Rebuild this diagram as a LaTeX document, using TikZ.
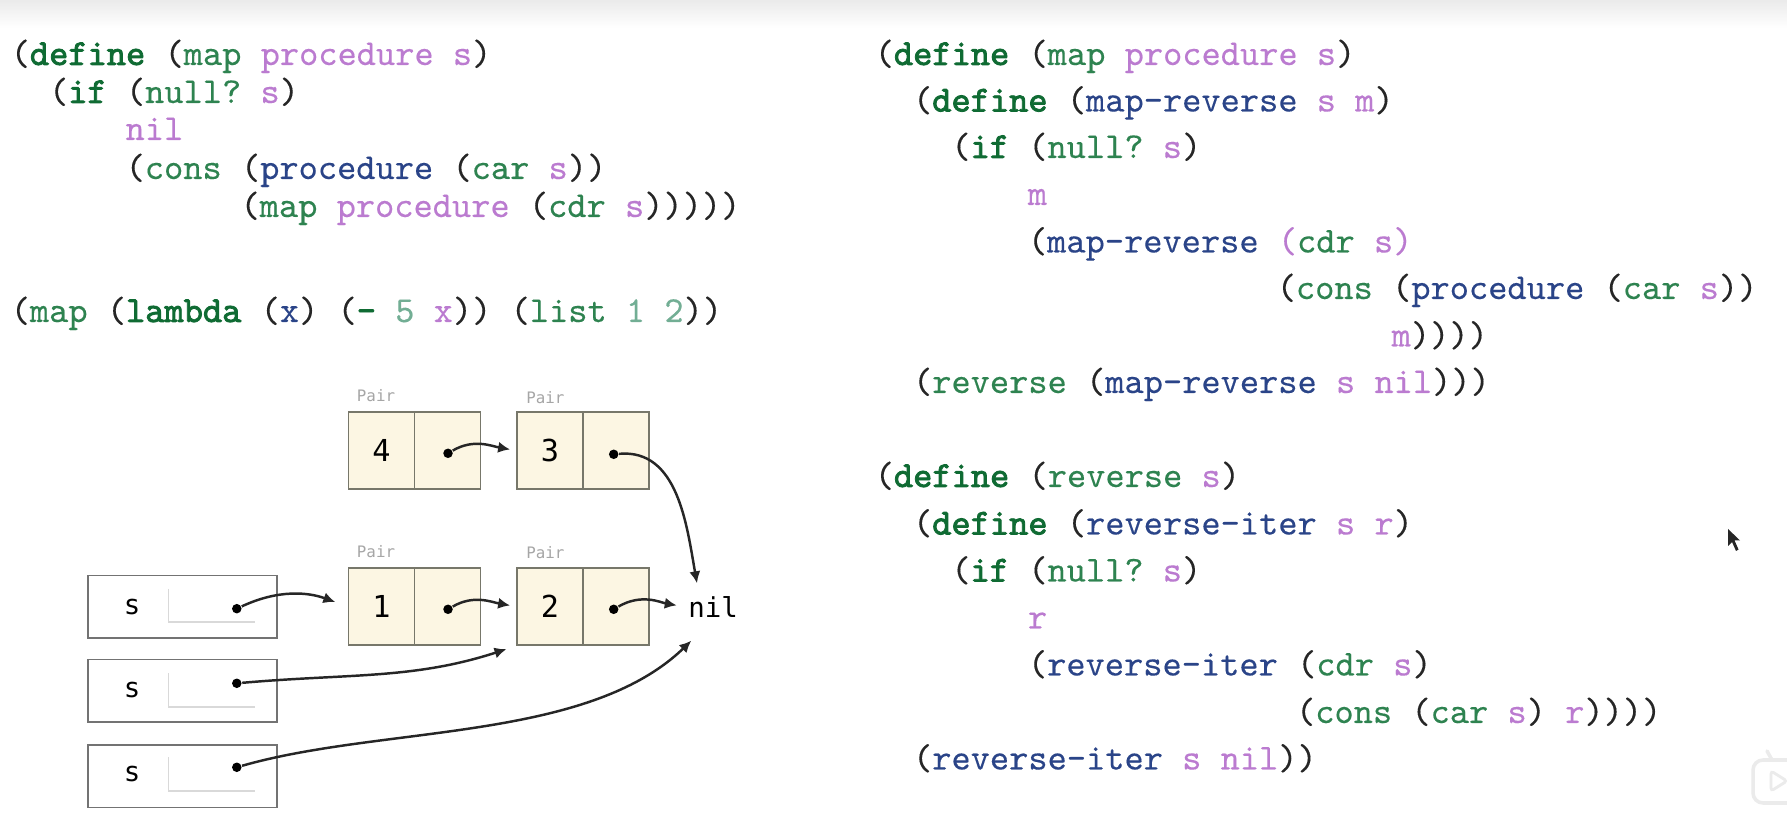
\documentclass[tikz,border=0pt]{standalone}
\usepackage{fontspec}
\usetikzlibrary{arrows.meta}
\newfontfamily\boxfont{DejaVu Sans Mono}
\setmonofont{Latin Modern Mono}[FakeBold=0.25]
\newfontfamily\keyfont{Latin Modern Mono}[FakeBold=2.2]

\definecolor{kwgreen}{HTML}{0F6B33}
\definecolor{fngreen}{HTML}{2E8350}
\definecolor{fnblue}{HTML}{2A4488}
\definecolor{argpurple}{HTML}{BB7BD0}
\definecolor{numteal}{HTML}{72AE94}
\definecolor{cellfill}{HTML}{FCF6E3}
\definecolor{celledge}{HTML}{77776A}

\newcommand{\kw}[1]{\textcolor{kwgreen}{\keyfont #1}}
\newcommand{\fn}[1]{\textcolor{fngreen}{#1}}
\newcommand{\fb}[1]{\textcolor{fnblue}{#1}}
\newcommand{\ar}[1]{\textcolor{argpurple}{#1}}
\newcommand{\nm}[1]{\textcolor{numteal}{#1}}

\tikzset{
    codeline/.style={anchor=base west, inner sep=0pt, text=black!85,
        font=\fontsize{10.42}{12}\selectfont\ttfamily},
    paircell/.style={draw=celledge, fill=cellfill, line width=0.45pt, inner sep=0pt,
        minimum width=0.662cm, minimum height=0.775cm, font=\boxfont\fontsize{8.6}{9}\selectfont},
    pairlabel/.style={inner sep=0pt, text=black!35, font=\boxfont\fontsize{4.5}{5}\selectfont},
    framebox/.style={draw=black!55, line width=0.45pt, inner sep=0pt,
        minimum width=1.887cm, minimum height=0.625cm},
    varname/.style={inner sep=0pt, font=\boxfont\fontsize{7.8}{9}\selectfont},
    slotline/.style={draw=black!15, line width=0.5pt},
    ptrdot/.style={circle, fill=black, inner sep=0pt, minimum size=0.095cm},
    ptrarrow/.style={-{Latex[length=3.4pt,width=3.2pt]}, line width=0.7pt, black!85}
}

\begin{document}
\begin{tikzpicture}
            \useasboundingbox (0, 0) rectangle (17.87, 8.23);
            \fill[white] (0, 0) rectangle (17.87, 8.23);
            \shade[top color=black!8, bottom color=white] (0, 7.95) rectangle (17.87, 8.23);

            % left code
            \node[codeline] (mapA) at (0.10, 7.58) {(\kw{define} (\fn{map} \ar{procedure s})};
            \node[codeline] (mapB) at (0.483, 7.20) {(\kw{if} (\fn{null?} \ar{s})};
            \node[codeline] (mapC) at (1.249, 6.83) {\ar{nil}};
            \node[codeline] (mapD) at (1.249, 6.44) {(\fn{cons} (\fb{procedure} (\fn{car} \ar{s}))};
            \node[codeline] (mapE) at (2.398, 6.06) {(\fn{map} \ar{procedure} (\fn{cdr} \ar{s})))))};
            \node[codeline] (callA) at (0.10, 5.01) {(\fn{map} (\kw{lambda} (\fb{x}) (\kw{-} \nm{5} \ar{x})) (\fn{list} \nm{1 2}))};

            % right code
            \node[codeline] (revA) at (8.74, 7.58) {(\kw{define} (\fn{map} \ar{procedure s})};
            \node[codeline] (revB) at (9.123, 7.115) {(\kw{define} (\fb{map-reverse} \ar{s m})};
            \node[codeline] (revC) at (9.506, 6.65) {(\kw{if} (\fn{null?} \ar{s})};
            \node[codeline] (revD) at (10.272, 6.18) {\ar{m}};
            \node[codeline] (revE) at (10.272, 5.705) {(\fb{map-reverse} \ar{(}\fn{cdr} \ar{s)}};
            \node[codeline] (revF) at (12.76, 5.24) {(\fn{cons} (\fb{procedure} (\fn{car} \ar{s}))};
            \node[codeline] (revG) at (13.91, 4.765) {\ar{m}))))};
            \node[codeline] (revH) at (9.123, 4.30) {(\fn{reverse} (\fb{map-reverse} \ar{s nil})))};

            \node[codeline] (iterA) at (8.74, 3.36) {(\kw{define} (\fn{reverse} \ar{s})};
            \node[codeline] (iterB) at (9.123, 2.885) {(\kw{define} (\fb{reverse-iter} \ar{s r})};
            \node[codeline] (iterC) at (9.506, 2.415) {(\kw{if} (\fn{null?} \ar{s})};
            \node[codeline] (iterD) at (10.272, 1.945) {\ar{r}};
            \node[codeline] (iterE) at (10.272, 1.475) {(\fb{reverse-iter} (\fn{cdr} \ar{s})};
            \node[codeline] (iterF) at (12.953, 1.00) {(\fn{cons} (\fn{car} \ar{s}) \ar{r}))))};
            \node[codeline] (iterG) at (9.123, 0.535) {(\fb{reverse-iter} \ar{s nil}))};

            % pairs
            \node[pairlabel] (labelFour) at (3.76, 4.27) {Pair};
            \node[pairlabel] (labelThree) at (5.453, 4.257) {Pair};
            \node[pairlabel] (labelOne) at (3.76, 2.713) {Pair};
            \node[pairlabel] (labelTwo) at (5.453, 2.703) {Pair};

            \node[paircell] (carFour) at (3.814, 3.725) {4};
            \node[paircell] (cdrFour) at (4.476, 3.725) {};
            \node[paircell] (carThree) at (5.499, 3.725) {3};
            \node[paircell] (cdrThree) at (6.161, 3.725) {};
            \node[paircell] (carOne) at (3.814, 2.165) {1};
            \node[paircell] (cdrOne) at (4.476, 2.165) {};
            \node[paircell] (carTwo) at (5.499, 2.165) {2};
            \node[paircell] (cdrTwo) at (6.161, 2.165) {};

            \node[varname] (nil) at (7.13, 2.157) {nil};
            \coordinate (nilAbove) at (6.97, 2.397);
            \coordinate (nilBelow) at (6.913, 1.823);

            % frames
            \node[framebox] (frameA) at (1.824, 2.162) {};
            \node[framebox] (frameB) at (1.824, 1.322) {};
            \node[framebox] (frameC) at (1.824, 0.467) {};
            \node[varname] (varA) at (1.32, 2.163) {s};
            \node[varname] (varB) at (1.32, 1.33) {s};
            \node[varname] (varC) at (1.32, 0.49) {s};
            \draw[slotline] (1.684, 2.34) |- (2.55, 2.013);
            \draw[slotline] (1.684, 1.497) |- (2.55, 1.163);
            \draw[slotline] (1.684, 0.657) |- (2.55, 0.32);

            % pointers
            \node[ptrdot] (dotFour) at (4.48, 3.697) {};
            \node[ptrdot] (dotThree) at (6.137, 3.687) {};
            \node[ptrdot] (dotOne) at (4.48, 2.137) {};
            \node[ptrdot] (dotTwo) at (6.137, 2.137) {};
            \node[ptrdot] (dotA) at (2.368, 2.143) {};
            \node[ptrdot] (dotB) at (2.368, 1.397) {};
            \node[ptrdot] (dotC) at (2.368, 0.557) {};

            \draw[ptrarrow, shorten >=0.06cm] (dotFour) to[out=30, in=170] (carThree.west);
            \draw[ptrarrow] (dotThree) to[out=5, in=100] (nilAbove);
            \draw[ptrarrow, shorten >=0.06cm] (dotOne) to[out=30, in=170] (carTwo.west);
            \draw[ptrarrow, shorten >=0.11cm] (dotTwo) to[out=30, in=170] (nil.west);
            \draw[ptrarrow, shorten >=0.13cm] (dotA) to[out=25, in=160] (carOne.west);
            \draw[ptrarrow, shorten >=0.1cm] (dotB) to[out=5, in=198] (carTwo.south west);
            \draw[ptrarrow] (dotC) to[out=16, in=224, looseness=0.8] (nilBelow);

            % cursor and corner logo
            \fill[black!85] (17.28, 2.94) -- (17.28, 2.77) -- (17.32, 2.81) -- (17.36, 2.72)
                -- (17.385, 2.735) -- (17.345, 2.825) -- (17.40, 2.825) -- cycle;
            \draw[black!8, line width=1pt, rounded corners=0.1cm] (17.87, 0.2) -- (17.53, 0.2) -- (17.53, 0.63) -- (17.87, 0.63);
            \draw[black!8, line width=1pt, line cap=round] (17.67, 0.72) -- (17.72, 0.63);
            \draw[black!8, line width=0.8pt, rounded corners=0.03cm] (17.87, 0.42) -- (17.71, 0.52) -- (17.71, 0.32) -- cycle;
\end{tikzpicture}
\end{document}
